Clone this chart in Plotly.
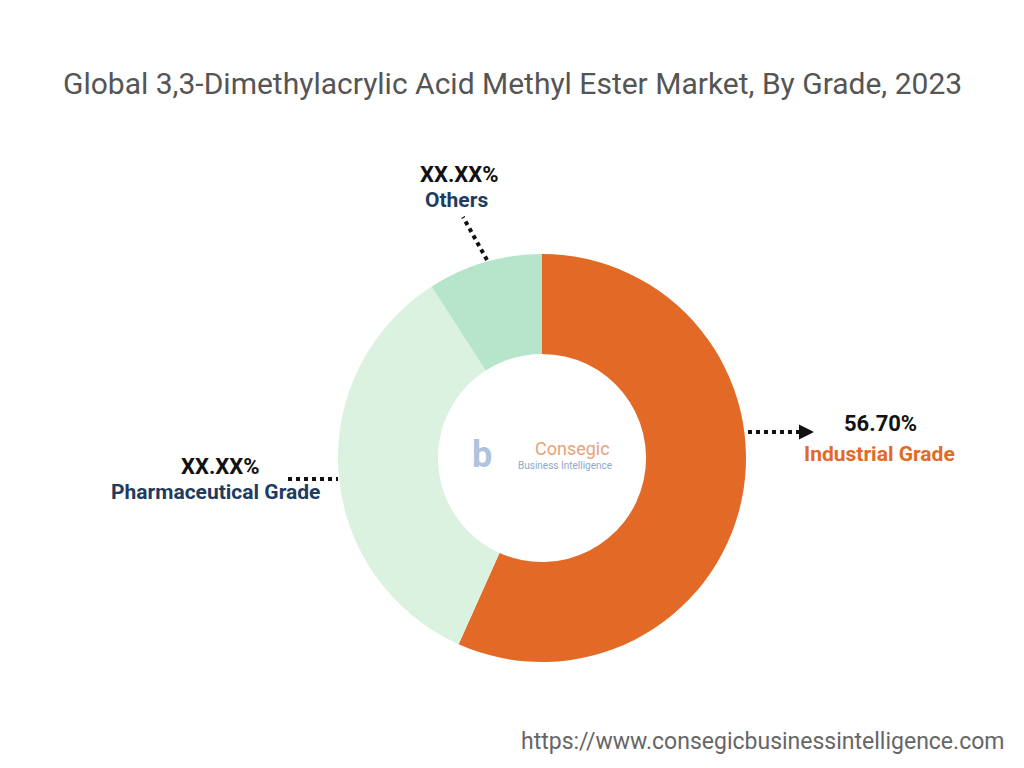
import plotly.graph_objects as go

grades = ["Industrial Grade", "Pharmaceutical Grade", "Others"]
shares = [56.7, 34.2, 9.1]
label_text = ["56.70%", "XX.XX%", "XX.XX%"]
colors = ["#E36A26", "#DAF2DF", "#B6E5CB"]

W, H = 1024, 768
OFF = 8  # page body margin
def px(x, y):
    return (x - OFF) / W, 1 - (y - OFF) / H

cx, cy, r = 542 - OFF, 458 - OFF, 204
fig = go.Figure(go.Pie(
    labels=grades, values=shares, hole=0.51, sort=False, direction="clockwise",
    rotation=0, marker=dict(colors=colors, line=dict(width=0)),
    textinfo="none", hoverinfo="label+percent", showlegend=False,
    domain=dict(x=[(cx - r) / W, (cx + r) / W], y=[(H - cy - r) / H, (H - cy + r) / H]),
))

F = "Roboto"
ann = []
def txt(x, y, s, size, color, bold=True, xanchor="center"):
    xx, yy = px(x, y)
    ann.append(dict(x=xx, y=yy, xref="paper", yref="paper", text=f"<b>{s}</b>" if bold else s,
                    showarrow=False, xanchor=xanchor, yanchor="middle",
                    font=dict(family=F, size=size, color=color)))

txt(512, 83, "Global 3,3-Dimethylacrylic Acid Methyl Ester Market, By Grade, 2023", 30, "#555555", bold=False)
txt(880, 423, label_text[0], 22, "#111111")
txt(879, 454, grades[0], 21, "#E36A26")
txt(220, 466, label_text[1], 22, "#111111")
txt(215, 492, grades[1], 21, "#1F3B5E")
txt(459, 174, label_text[2], 22, "#111111")
txt(456, 200, grades[2], 21, "#1F3B5E")
txt(1006, 741, "https://www.consegicbusinessintelligence.com", 23, "#666666", bold=False, xanchor="right")
txt(572, 448, "Consegic", 18, "#E8A27A", bold=False)
txt(565, 465, "Business Intelligence", 10, "#8FA8C8", bold=False)
txt(482, 455, "b", 36, "#AFC3DC")

# arrow head for Industrial
x1, y1 = px(814, 432)
ann.append(dict(x=x1, y=y1, ax=-12, ay=0, xref="paper", yref="paper", axref="pixel", ayref="pixel",
                text="", showarrow=True, arrowhead=2, arrowsize=1.2, arrowwidth=2.5, arrowcolor="#111111"))

shapes = []
for (a, b, c, d) in [(748, 432, 806, 432), (288, 479, 338, 479), (487, 260, 463, 217)]:
    xa, ya = px(a, b)
    xb, yb = px(c, d)
    shapes.append(dict(type="line", xref="paper", yref="paper", x0=xa, y0=ya, x1=xb, y1=yb,
                       line=dict(color="#111111", width=4, dash="dot")))

fig.update_layout(width=W, height=H, margin=dict(l=0, r=0, t=0, b=0),
                  paper_bgcolor="white", plot_bgcolor="white",
                  annotations=ann, shapes=shapes)
fig.write_html("out.html")
